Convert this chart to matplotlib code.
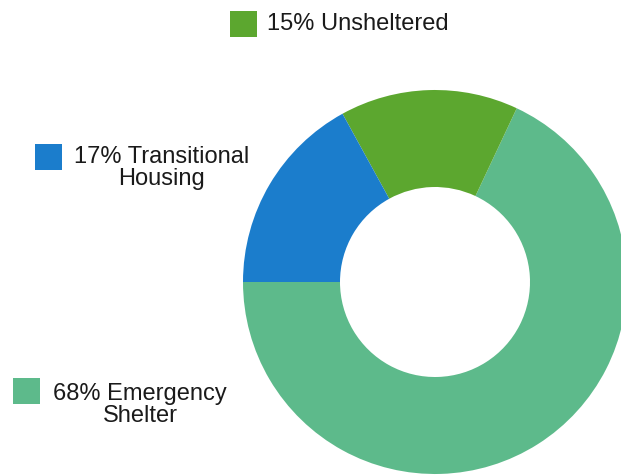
import matplotlib
matplotlib.use("Agg")
import matplotlib.pyplot as plt
from matplotlib.patches import Rectangle

# data, in drawing order (starting at 9 o'clock, going round the bottom and up)
categories = ["Emergency\nShelter", "Unsheltered", "Transitional\nHousing"]
shares = [68, 15, 17]
colors = ["#5dba8b", "#5ca72f", "#1b7dcc"]

# where each label sits (pixels from top-left) and its square
label_pos = [(140, 405), (358, 24), (162, 168)]
square_pos = [(13, 378), (230, 11), (35, 144)]

W, H = 621, 475
fig = plt.figure(figsize=(W / 100, H / 100), dpi=100)
ax = fig.add_axes([0, 0, 1, 1])

cx, cy, r = 435, 282, 192
ax.pie(shares, colors=colors, startangle=180, counterclock=True,
       center=(cx, H - cy), radius=r,
       wedgeprops=dict(width=97, linewidth=0))
ax.set_xlim(0, W)
ax.set_ylim(0, H)
ax.set_aspect("equal")
ax.axis("off")

for cat, pct, col, (tx, ty), (sx, sy) in zip(categories, shares, colors, label_pos, square_pos):
    ax.add_patch(Rectangle((sx, H - sy - 26), 27, 26, color=col, lw=0))
    ax.text(tx, H - ty, f"{pct}% {cat}", ha="center", va="center",
            multialignment="center", fontsize=17, family="Liberation Sans",
            color="#1a1a1a", linespacing=0.95)

fig.savefig("out.png", dpi=100)
